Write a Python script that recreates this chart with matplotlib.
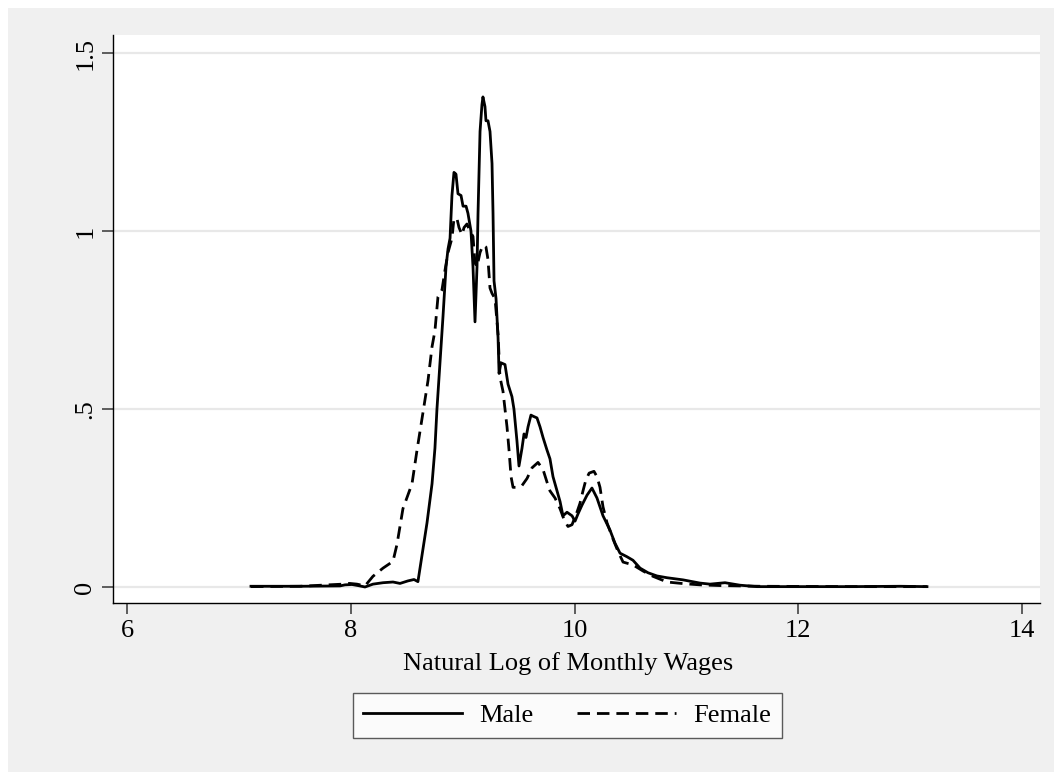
import matplotlib.pyplot as plt
from matplotlib.patches import Rectangle

# Lecture approximative de la densité (log salaire mensuel)
male_x = [7.108, 7.546, 7.904, 7.948, 8.011, 8.064, 8.127, 8.198, 8.288, 8.377,
          8.44, 8.51, 8.565, 8.60, 8.681, 8.726, 8.752, 8.77, 8.797, 8.824,
          8.851, 8.869, 8.887, 8.904, 8.922, 8.94, 8.958, 8.985, 9.003, 9.03,
          9.047, 9.074, 9.092, 9.11, 9.128, 9.137, 9.155, 9.172, 9.181, 9.199,
          9.208, 9.226, 9.244, 9.262, 9.271, 9.28, 9.298, 9.316, 9.325, 9.342,
          9.378, 9.405, 9.44, 9.458, 9.485, 9.503, 9.53, 9.548, 9.566, 9.584,
          9.61, 9.628, 9.664, 9.691, 9.718, 9.753, 9.78, 9.807, 9.843, 9.87,
          9.896, 9.932, 9.977, 10.004, 10.03, 10.066, 10.111, 10.155, 10.2, 10.254,
          10.316, 10.361, 10.406, 10.468, 10.522, 10.585, 10.656, 10.736, 10.826, 10.969,
          11.12, 11.21, 11.344, 11.478, 11.63, 12.014, 12.46, 12.908, 13.149]
male_y = [0.002, 0.002, 0.003, 0.006, 0.007, 0.004, 0.0, 0.008, 0.012, 0.014,
          0.010, 0.017, 0.021, 0.015, 0.18, 0.29, 0.39, 0.50, 0.63, 0.76,
          0.90, 0.95, 0.98, 1.10, 1.165, 1.16, 1.105, 1.10, 1.07, 1.07,
          1.05, 1.00, 0.90, 0.745, 0.90, 1.05, 1.28, 1.355, 1.377, 1.35,
          1.31, 1.31, 1.28, 1.19, 1.05, 0.86, 0.81, 0.70, 0.60, 0.63,
          0.625, 0.57, 0.535, 0.50, 0.41, 0.34, 0.39, 0.43, 0.42, 0.45,
          0.483, 0.48, 0.475, 0.45, 0.42, 0.385, 0.36, 0.31, 0.27, 0.24,
          0.20, 0.21, 0.20, 0.185, 0.205, 0.23, 0.258, 0.278, 0.25, 0.20,
          0.16, 0.123, 0.095, 0.085, 0.075, 0.053, 0.04, 0.031, 0.026, 0.02,
          0.011, 0.008, 0.012, 0.005, 0.001, 0.001, 0.001, 0.002, 0.001]

female_x = [7.108, 7.546, 7.93, 7.99, 8.055, 8.127, 8.198, 8.288, 8.377, 8.413,
            8.466, 8.547, 8.592, 8.645, 8.69, 8.726, 8.752, 8.779, 8.815, 8.842,
            8.869, 8.904, 8.922, 8.949, 8.967, 8.994, 9.012, 9.038, 9.065, 9.092,
            9.11, 9.128, 9.155, 9.181, 9.208, 9.226, 9.244, 9.262, 9.289, 9.316,
            9.333, 9.36, 9.396, 9.414, 9.432, 9.45, 9.485, 9.53, 9.575, 9.62,
            9.673, 9.718, 9.753, 9.78, 9.825, 9.87, 9.905, 9.941, 9.977, 10.021,
            10.048, 10.075, 10.10, 10.13, 10.173, 10.2, 10.227, 10.254, 10.29, 10.343,
            10.388, 10.433, 10.522, 10.611, 10.70, 10.826, 10.987, 11.12, 11.30, 11.657,
            12.46, 13.149]
female_y = [0.001, 0.002, 0.008, 0.010, 0.008, 0.003, 0.03, 0.053, 0.072, 0.12,
            0.22, 0.29, 0.385, 0.49, 0.58, 0.675, 0.72, 0.815, 0.835, 0.89,
            0.94, 0.98, 1.035, 1.035, 1.01, 0.99, 1.01, 1.02, 1.00, 0.985,
            0.91, 0.90, 0.94, 0.96, 0.955, 0.92, 0.84, 0.825, 0.81, 0.71,
            0.59, 0.55, 0.45, 0.385, 0.31, 0.28, 0.28, 0.285, 0.305, 0.335,
            0.35, 0.33, 0.295, 0.27, 0.25, 0.22, 0.19, 0.17, 0.175, 0.21,
            0.235, 0.27, 0.30, 0.32, 0.325, 0.31, 0.28, 0.225, 0.18, 0.135,
            0.10, 0.07, 0.062, 0.045, 0.03, 0.014, 0.009, 0.006, 0.004, 0.002,
            0.001, 0.001]

x_ticks = [6, 8, 10, 12, 14]
y_ticks = [0, 0.5, 1, 1.5]
y_ticklabels = ['0', '.5', '1', '1.5']

plt.rcParams['font.family'] = ['Liberation Serif', 'DejaVu Serif']
FS = 19

W, H = 1054, 772
fig = plt.figure(figsize=(W / 100, H / 100), dpi=100, facecolor='white')

# fond gris façon Stata (derrière tout le reste)
fig.patches.append(Rectangle((8 / W, 0), 1 - 8 / W, 1 - 8 / H,
                             transform=fig.transFigure, facecolor='#f0f0f0',
                             edgecolor='none', zorder=-10))

ax = fig.add_axes([113 / W, 1 - 603 / H, (1040 - 113) / W, (603 - 35) / H])
ax.set_facecolor('white')

ax.plot(male_x, male_y, color='black', lw=2, label='Male', zorder=3)
ax.plot(female_x, female_y, color='black', lw=2, linestyle=(0, (4.5, 2.5)),
        label='Female', zorder=3)

ax.set_xlim(5.875, 14.159)
ax.set_ylim(-0.045, 1.551)
ax.set_xticks(x_ticks)
ax.set_yticks(y_ticks)
ax.set_yticklabels(y_ticklabels, rotation=90, va='center')

ax.grid(axis='y', color='#e8e8e8', lw=1.6, zorder=1)
ax.set_axisbelow(True)

for side in ['top', 'right']:
    ax.spines[side].set_visible(False)
for side in ['left', 'bottom']:
    ax.spines[side].set_color('black')
    ax.spines[side].set_linewidth(1.0)

ax.tick_params(axis='both', direction='out', length=8, width=1.2,
               color='#444444', labelsize=FS, pad=4)

fig.text(568 / W, 1 - 670 / H, 'Natural Log of Monthly Wages',
         ha='center', va='baseline', fontsize=FS)

leg = fig.legend(loc='center', bbox_to_anchor=(567 / W, 1 - 715.5 / H),
                 ncol=2, frameon=True, fancybox=False, fontsize=FS,
                 handlelength=3.75, handletextpad=0.65, columnspacing=1.65,
                 borderpad=0.4)
leg.get_frame().set_edgecolor('#333333')
leg.get_frame().set_linewidth(1.0)
leg.get_frame().set_facecolor('white')

fig.savefig('out.png', dpi=100, facecolor='white')
